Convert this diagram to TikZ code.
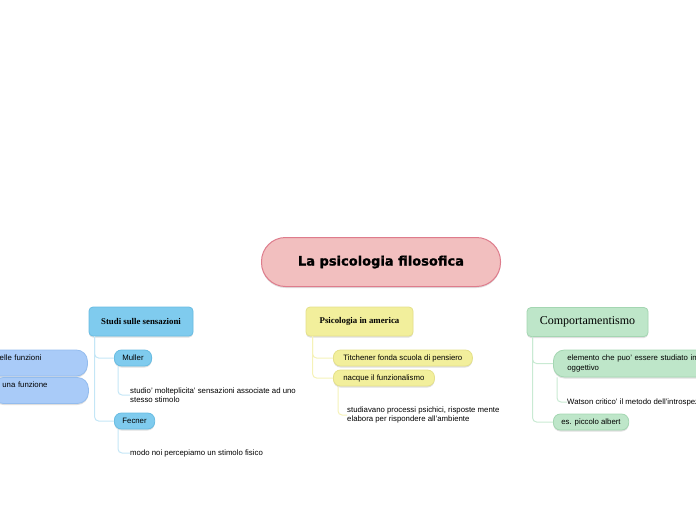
\documentclass[tikz,border=0pt]{standalone}
\usepackage{fontspec}
\setmainfont{Liberation Serif}
\setsansfont{Liberation Sans}
\newfontfamily\titlefont[FakeBold=1.2]{DejaVu Sans Bold}
\usetikzlibrary{shadows}

\definecolor{rosafill}{HTML}{F2BFBF}
\definecolor{rosadraw}{HTML}{DE7C8C}
\definecolor{blufill}{HTML}{7FCBEE}
\definecolor{bludraw}{HTML}{68BCE2}
\definecolor{bluchiaro}{HTML}{A9CBF8}
\definecolor{bluchiarodraw}{HTML}{93BCEE}
\definecolor{gialfill}{HTML}{F2EF9C}
\definecolor{gialdraw}{HTML}{E4E08A}
\definecolor{verdefill}{HTML}{BEE6C9}
\definecolor{verdedraw}{HTML}{A4D6B2}
\definecolor{ramoblu}{HTML}{C4E6F6}
\definecolor{ramogial}{HTML}{F5F2B8}
\definecolor{ramoverde}{HTML}{C9EAD3}

\tikzset{
  ombra/.style={drop shadow={opacity=0.25,shadow xshift=0pt,shadow yshift=-1.5pt}},
  radice/.style={draw=rosadraw,fill=rosafill,line width=1pt,rounded corners=24pt,
    minimum width=239pt,minimum height=49pt,ombra,
    font=\titlefont\fontsize{13}{15}\selectfont},
  argomento/.style={rounded corners=4pt,minimum height=29pt,line width=0.8pt,ombra,
    font=\bfseries\fontsize{8.8}{10}\selectfont},
  voce/.style={rounded corners=7pt,minimum height=16pt,inner xsep=8pt,inner ysep=0pt,
    anchor=west,line width=0.8pt,ombra,font=\sffamily\fontsize{7.8}{9}\selectfont},
  nota/.style={anchor=west,inner sep=0pt,align=left,
    font=\sffamily\fontsize{7.8}{9.4}\selectfont},
  ramo/.style={line width=1pt,rounded corners=4pt}
}

\begin{document}
\begin{tikzpicture}[x=1pt,y=-1pt]
  \useasboundingbox (0,0) rectangle (696,520);
  \clip (0,0) rectangle (696,520);

  % Nodo centrale.
  \node[radice] (radice) at (381,262) {La psicologia filosofica};

  % Studi sulle sensazioni.
  \node[argomento,draw=bludraw,fill=blufill,minimum width=104pt] (studi) at (141,321.5)
    {Studi sulle sensazioni};
  \node[voce,draw=bludraw,fill=blufill] (muller) at (114,358) {Muller};
  \node[voce,draw=bludraw,fill=blufill] (fecner) at (114,421) {Fecner};
  \node[nota] (molteplicita) at (130,395)
    {studio' molteplicita' sensazioni associate ad uno\\stesso stimolo};
  \node[nota] (stimolo) at (130,453) {modo noi percepiamo un stimolo fisico};
  \draw[ramo,ramoblu] ([xshift=6pt]studi.south west) |- (muller.west);
  \draw[ramo,ramoblu] ([xshift=6pt]studi.south west) |- (fecner.west);
  \draw[ramo,ramoblu] ([xshift=4pt]muller.south west) |- (molteplicita.west);
  \draw[ramo,ramoblu] ([xshift=4pt]fecner.south west) |- (stimolo.west);

  % Rami tagliati a sinistra.
  \node[voce,draw=bluchiarodraw,fill=bluchiaro,rounded corners=11pt,minimum height=26pt,
    text width=82pt,inner xsep=10pt,text height=6pt,text depth=12pt,inner ysep=4pt]
    (funzioni) at (-15,363) {delle funzioni};
  \node[voce,draw=bluchiarodraw,fill=bluchiaro,rounded corners=11pt,minimum height=26pt,
    text width=76pt,inner xsep=10pt,text height=6pt,text depth=12pt,inner ysep=4pt]
    (funzione) at (-8,390.5) {una funzione};

  % Psicologia in america.
  \node[argomento,draw=gialdraw,fill=gialfill,minimum width=107pt] (america) at (359.5,321.5)
    {Psicologia in america};
  \node[voce,draw=gialdraw,fill=gialfill,inner xsep=10pt] (titchener) at (333,358)
    {Titchener fonda scuola di pensiero};
  \node[voce,draw=gialdraw,fill=gialfill,inner xsep=10pt] (funzionalismo) at (333,378)
    {nacque il funzionalismo};
  \node[nota] (processi) at (347,415)
    {studiavano processi psichici, risposte mente\\elabora per rispondere all'ambiente};
  \draw[ramo,ramogial] ([xshift=7pt]america.south west) |- (titchener.west);
  \draw[ramo,ramogial] ([xshift=7pt]america.south west) |- (funzionalismo.west);
  \draw[ramo,ramogial] ([xshift=5pt]funzionalismo.south west) |- (processi.west);

  % Comportamentismo.
  \node[argomento,draw=verdedraw,fill=verdefill,minimum width=121pt,
    font=\fontsize{12}{14}\selectfont] (comport) at (587.5,322) {Comportamentismo};
  \node[voce,draw=verdedraw,fill=verdefill,rounded corners=11pt,minimum height=27pt,
    inner xsep=14pt,align=left,text width=180pt,font=\sffamily\fontsize{7.8}{9.4}\selectfont]
    (elemento) at (553,363.5) {elemento che puo' essere studiato in modo\\oggettivo};
  \node[voce,draw=verdedraw,fill=verdefill] (albert) at (553,422) {es. piccolo albert};
  \node[nota] (watson) at (567,402) {Watson critico' il metodo dell'introspezione};
  \draw[ramo,ramoverde] ([xshift=6pt]comport.south west) |- (elemento.west);
  \draw[ramo,ramoverde] ([xshift=6pt]comport.south west) |- (albert.west);
  \draw[ramo,ramoverde] ([xshift=4pt]elemento.south west) |- (watson.west);
\end{tikzpicture}
\end{document}
